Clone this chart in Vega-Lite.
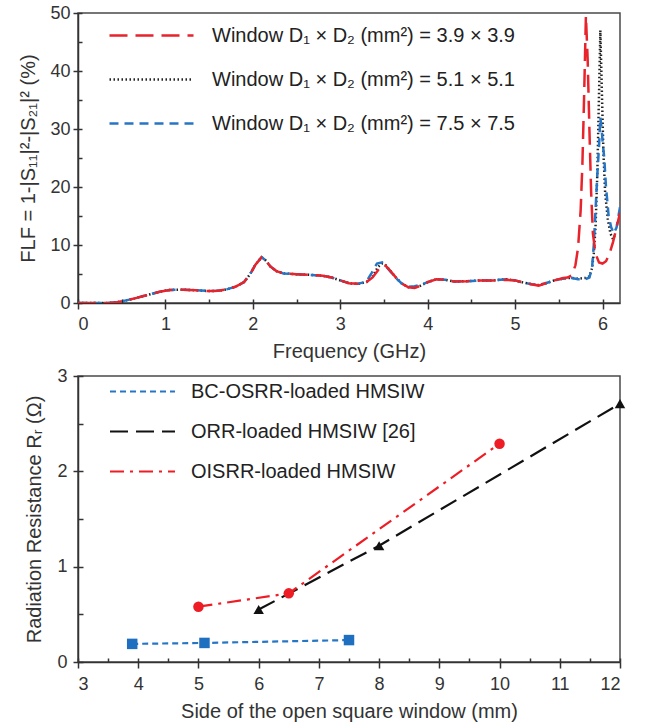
{
 "$schema": "https://vega.github.io/schema/vega-lite/v6.json",
 "config": {
  "font": "Liberation Sans",
  "view": {"stroke": "#4a4a4a", "strokeWidth": 1.5},
  "axis": {"labelFont": "Liberation Sans", "labelFontSize": 18, "labelColor": "#333333", "titleFont": "Liberation Sans", "titleFontSize": 20, "titleFontWeight": "normal", "titleColor": "#333333", "domainColor": "#333333", "tickColor": "#333333", "grid": false, "domainWidth": 1.5, "tickWidth": 1.5},
  "legend": {"labelFont": "Liberation Sans", "labelColor": "#222222", "labelFontSize": 20, "labelLimit": 600, "title": null, "padding": 0}
 },
 "datasets": {
  "top": [
   {"s":"5.1 × 5.1","f":0,"v":0},{"s":"5.1 × 5.1","f":0.2,"v":0},{"s":"5.1 × 5.1","f":0.35,"v":0.02},{"s":"5.1 × 5.1","f":0.45,"v":0.15},{"s":"5.1 × 5.1","f":0.55,"v":0.45},{"s":"5.1 × 5.1","f":0.65,"v":0.8},{"s":"5.1 × 5.1","f":0.75,"v":1.2},{"s":"5.1 × 5.1","f":0.85,"v":1.6},{"s":"5.1 × 5.1","f":0.95,"v":2.0},{"s":"5.1 × 5.1","f":1.05,"v":2.25},{"s":"5.1 × 5.1","f":1.2,"v":2.3},{"s":"5.1 × 5.1","f":1.35,"v":2.2},{"s":"5.1 × 5.1","f":1.5,"v":2.05},{"s":"5.1 × 5.1","f":1.6,"v":2.1},{"s":"5.1 × 5.1","f":1.7,"v":2.35},{"s":"5.1 × 5.1","f":1.8,"v":2.8},{"s":"5.1 × 5.1","f":1.9,"v":3.6},{"s":"5.1 × 5.1","f":1.97,"v":5.0},{"s":"5.1 × 5.1","f":2.03,"v":6.6},{"s":"5.1 × 5.1","f":2.1,"v":7.9},{"s":"5.1 × 5.1","f":2.15,"v":7.3},{"s":"5.1 × 5.1","f":2.2,"v":6.3},{"s":"5.1 × 5.1","f":2.27,"v":5.5},{"s":"5.1 × 5.1","f":2.35,"v":5.1},{"s":"5.1 × 5.1","f":2.5,"v":4.95},{"s":"5.1 × 5.1","f":2.65,"v":4.85},{"s":"5.1 × 5.1","f":2.8,"v":4.7},{"s":"5.1 × 5.1","f":2.9,"v":4.4},{"s":"5.1 × 5.1","f":3.0,"v":3.9},{"s":"5.1 × 5.1","f":3.1,"v":3.4},{"s":"5.1 × 5.1","f":3.2,"v":3.3},{"s":"5.1 × 5.1","f":3.3,"v":3.6},{"s":"5.1 × 5.1","f":3.37,"v":4.6},{"s":"5.1 × 5.1","f":3.43,"v":6.2},{"s":"5.1 × 5.1","f":3.48,"v":6.8},{"s":"5.1 × 5.1","f":3.52,"v":6.5},{"s":"5.1 × 5.1","f":3.57,"v":5.6},{"s":"5.1 × 5.1","f":3.63,"v":4.5},{"s":"5.1 × 5.1","f":3.7,"v":3.4},{"s":"5.1 × 5.1","f":3.78,"v":2.7},{"s":"5.1 × 5.1","f":3.85,"v":2.7},{"s":"5.1 × 5.1","f":3.92,"v":3.0},{"s":"5.1 × 5.1","f":4.0,"v":3.6},{"s":"5.1 × 5.1","f":4.1,"v":4.1},{"s":"5.1 × 5.1","f":4.2,"v":4.0},{"s":"5.1 × 5.1","f":4.3,"v":3.7},{"s":"5.1 × 5.1","f":4.45,"v":3.75},{"s":"5.1 × 5.1","f":4.6,"v":3.9},{"s":"5.1 × 5.1","f":4.75,"v":3.9},{"s":"5.1 × 5.1","f":4.9,"v":4.1},{"s":"5.1 × 5.1","f":5.0,"v":3.9},{"s":"5.1 × 5.1","f":5.1,"v":3.5},{"s":"5.1 × 5.1","f":5.2,"v":3.2},{"s":"5.1 × 5.1","f":5.27,"v":3.1},{"s":"5.1 × 5.1","f":5.35,"v":3.4},{"s":"5.1 × 5.1","f":5.45,"v":3.9},{"s":"5.1 × 5.1","f":5.55,"v":4.2},{"s":"5.1 × 5.1","f":5.6,"v":4.3},
   {"s":"5.1 × 5.1","f":5.65,"v":4.3},{"s":"5.1 × 5.1","f":5.72,"v":4.2},{"s":"5.1 × 5.1","f":5.8,"v":4.3},{"s":"5.1 × 5.1","f":5.85,"v":4.6},{"s":"5.1 × 5.1","f":5.88,"v":6},{"s":"5.1 × 5.1","f":5.9,"v":8.5},{"s":"5.1 × 5.1","f":5.92,"v":13},{"s":"5.1 × 5.1","f":5.94,"v":22},{"s":"5.1 × 5.1","f":5.96,"v":36},{"s":"5.1 × 5.1","f":5.975,"v":47},{"s":"5.1 × 5.1","f":5.99,"v":38},{"s":"5.1 × 5.1","f":6.01,"v":26},{"s":"5.1 × 5.1","f":6.03,"v":19},{"s":"5.1 × 5.1","f":6.06,"v":14.5},{"s":"5.1 × 5.1","f":6.09,"v":12},{"s":"5.1 × 5.1","f":6.12,"v":11},{"s":"5.1 × 5.1","f":6.15,"v":12},
   {"s":"7.5 × 7.5","f":0,"v":0},{"s":"7.5 × 7.5","f":0.2,"v":0},{"s":"7.5 × 7.5","f":0.35,"v":0.02},{"s":"7.5 × 7.5","f":0.45,"v":0.15},{"s":"7.5 × 7.5","f":0.55,"v":0.45},{"s":"7.5 × 7.5","f":0.65,"v":0.8},{"s":"7.5 × 7.5","f":0.75,"v":1.2},{"s":"7.5 × 7.5","f":0.85,"v":1.6},{"s":"7.5 × 7.5","f":0.95,"v":2.0},{"s":"7.5 × 7.5","f":1.05,"v":2.25},{"s":"7.5 × 7.5","f":1.2,"v":2.3},{"s":"7.5 × 7.5","f":1.35,"v":2.2},{"s":"7.5 × 7.5","f":1.5,"v":2.05},{"s":"7.5 × 7.5","f":1.6,"v":2.1},{"s":"7.5 × 7.5","f":1.7,"v":2.35},{"s":"7.5 × 7.5","f":1.8,"v":2.8},{"s":"7.5 × 7.5","f":1.9,"v":3.6},{"s":"7.5 × 7.5","f":1.97,"v":5.0},{"s":"7.5 × 7.5","f":2.03,"v":6.6},{"s":"7.5 × 7.5","f":2.1,"v":7.9},{"s":"7.5 × 7.5","f":2.15,"v":7.3},{"s":"7.5 × 7.5","f":2.2,"v":6.3},{"s":"7.5 × 7.5","f":2.27,"v":5.5},{"s":"7.5 × 7.5","f":2.35,"v":5.1},{"s":"7.5 × 7.5","f":2.5,"v":4.95},{"s":"7.5 × 7.5","f":2.65,"v":4.85},{"s":"7.5 × 7.5","f":2.8,"v":4.7},{"s":"7.5 × 7.5","f":2.9,"v":4.4},{"s":"7.5 × 7.5","f":3.0,"v":3.9},{"s":"7.5 × 7.5","f":3.1,"v":3.4},{"s":"7.5 × 7.5","f":3.2,"v":3.3},{"s":"7.5 × 7.5","f":3.3,"v":3.7},{"s":"7.5 × 7.5","f":3.36,"v":5.2},{"s":"7.5 × 7.5","f":3.42,"v":6.8},{"s":"7.5 × 7.5","f":3.48,"v":7.0},{"s":"7.5 × 7.5","f":3.52,"v":6.4},{"s":"7.5 × 7.5","f":3.57,"v":5.5},{"s":"7.5 × 7.5","f":3.63,"v":4.4},{"s":"7.5 × 7.5","f":3.7,"v":3.4},{"s":"7.5 × 7.5","f":3.78,"v":2.8},{"s":"7.5 × 7.5","f":3.85,"v":2.9},{"s":"7.5 × 7.5","f":3.92,"v":3.1},{"s":"7.5 × 7.5","f":4.0,"v":3.6},{"s":"7.5 × 7.5","f":4.1,"v":4.1},{"s":"7.5 × 7.5","f":4.2,"v":4.0},{"s":"7.5 × 7.5","f":4.3,"v":3.7},{"s":"7.5 × 7.5","f":4.45,"v":3.75},{"s":"7.5 × 7.5","f":4.6,"v":3.9},{"s":"7.5 × 7.5","f":4.75,"v":3.9},{"s":"7.5 × 7.5","f":4.9,"v":4.1},{"s":"7.5 × 7.5","f":5.0,"v":3.9},{"s":"7.5 × 7.5","f":5.1,"v":3.5},{"s":"7.5 × 7.5","f":5.2,"v":3.2},{"s":"7.5 × 7.5","f":5.27,"v":3.1},{"s":"7.5 × 7.5","f":5.35,"v":3.4},{"s":"7.5 × 7.5","f":5.45,"v":3.9},{"s":"7.5 × 7.5","f":5.55,"v":4.2},{"s":"7.5 × 7.5","f":5.6,"v":4.3},
   {"s":"7.5 × 7.5","f":5.65,"v":4.3},{"s":"7.5 × 7.5","f":5.72,"v":4.1},{"s":"7.5 × 7.5","f":5.8,"v":4.1},{"s":"7.5 × 7.5","f":5.85,"v":4.4},{"s":"7.5 × 7.5","f":5.88,"v":6},{"s":"7.5 × 7.5","f":5.9,"v":10},{"s":"7.5 × 7.5","f":5.92,"v":16},{"s":"7.5 × 7.5","f":5.94,"v":22},{"s":"7.5 × 7.5","f":5.96,"v":27},{"s":"7.5 × 7.5","f":5.975,"v":32},{"s":"7.5 × 7.5","f":5.99,"v":30},{"s":"7.5 × 7.5","f":6.0,"v":28},{"s":"7.5 × 7.5","f":6.02,"v":25},{"s":"7.5 × 7.5","f":6.04,"v":20},{"s":"7.5 × 7.5","f":6.07,"v":15},{"s":"7.5 × 7.5","f":6.1,"v":13},{"s":"7.5 × 7.5","f":6.13,"v":12},{"s":"7.5 × 7.5","f":6.16,"v":13},{"s":"7.5 × 7.5","f":6.2,"v":16.5},
   {"s":"3.9 × 3.9","f":0,"v":0},{"s":"3.9 × 3.9","f":0.2,"v":0},{"s":"3.9 × 3.9","f":0.35,"v":0.02},{"s":"3.9 × 3.9","f":0.45,"v":0.15},{"s":"3.9 × 3.9","f":0.55,"v":0.45},{"s":"3.9 × 3.9","f":0.65,"v":0.8},{"s":"3.9 × 3.9","f":0.75,"v":1.2},{"s":"3.9 × 3.9","f":0.85,"v":1.6},{"s":"3.9 × 3.9","f":0.95,"v":2.0},{"s":"3.9 × 3.9","f":1.05,"v":2.25},{"s":"3.9 × 3.9","f":1.2,"v":2.3},{"s":"3.9 × 3.9","f":1.35,"v":2.2},{"s":"3.9 × 3.9","f":1.5,"v":2.05},{"s":"3.9 × 3.9","f":1.6,"v":2.1},{"s":"3.9 × 3.9","f":1.7,"v":2.35},{"s":"3.9 × 3.9","f":1.8,"v":2.8},{"s":"3.9 × 3.9","f":1.9,"v":3.6},{"s":"3.9 × 3.9","f":1.97,"v":5.0},{"s":"3.9 × 3.9","f":2.03,"v":6.6},{"s":"3.9 × 3.9","f":2.1,"v":7.9},{"s":"3.9 × 3.9","f":2.15,"v":7.3},{"s":"3.9 × 3.9","f":2.2,"v":6.3},{"s":"3.9 × 3.9","f":2.27,"v":5.5},{"s":"3.9 × 3.9","f":2.35,"v":5.1},{"s":"3.9 × 3.9","f":2.5,"v":4.95},{"s":"3.9 × 3.9","f":2.65,"v":4.85},{"s":"3.9 × 3.9","f":2.8,"v":4.7},{"s":"3.9 × 3.9","f":2.9,"v":4.4},{"s":"3.9 × 3.9","f":3.0,"v":3.9},{"s":"3.9 × 3.9","f":3.1,"v":3.4},{"s":"3.9 × 3.9","f":3.2,"v":3.3},{"s":"3.9 × 3.9","f":3.3,"v":3.6},{"s":"3.9 × 3.9","f":3.37,"v":4.4},{"s":"3.9 × 3.9","f":3.43,"v":5.6},{"s":"3.9 × 3.9","f":3.48,"v":6.6},{"s":"3.9 × 3.9","f":3.52,"v":6.4},{"s":"3.9 × 3.9","f":3.57,"v":5.6},{"s":"3.9 × 3.9","f":3.63,"v":4.5},{"s":"3.9 × 3.9","f":3.7,"v":3.4},{"s":"3.9 × 3.9","f":3.78,"v":2.7},{"s":"3.9 × 3.9","f":3.85,"v":2.6},{"s":"3.9 × 3.9","f":3.92,"v":3.0},{"s":"3.9 × 3.9","f":4.0,"v":3.6},{"s":"3.9 × 3.9","f":4.1,"v":4.1},{"s":"3.9 × 3.9","f":4.2,"v":4.0},{"s":"3.9 × 3.9","f":4.3,"v":3.7},{"s":"3.9 × 3.9","f":4.45,"v":3.75},{"s":"3.9 × 3.9","f":4.6,"v":3.9},{"s":"3.9 × 3.9","f":4.75,"v":3.9},{"s":"3.9 × 3.9","f":4.9,"v":4.0},{"s":"3.9 × 3.9","f":5.0,"v":3.9},{"s":"3.9 × 3.9","f":5.1,"v":3.5},{"s":"3.9 × 3.9","f":5.2,"v":3.2},{"s":"3.9 × 3.9","f":5.27,"v":3.0},{"s":"3.9 × 3.9","f":5.35,"v":3.4},{"s":"3.9 × 3.9","f":5.45,"v":3.9},{"s":"3.9 × 3.9","f":5.55,"v":4.3},{"s":"3.9 × 3.9","f":5.6,"v":4.4},
   {"s":"3.9 × 3.9","f":5.65,"v":4.8},{"s":"3.9 × 3.9","f":5.69,"v":6.5},{"s":"3.9 × 3.9","f":5.72,"v":9.5},{"s":"3.9 × 3.9","f":5.75,"v":16},{"s":"3.9 × 3.9","f":5.77,"v":24},{"s":"3.9 × 3.9","f":5.79,"v":36},{"s":"3.9 × 3.9","f":5.81,"v":49.5},{"s":"3.9 × 3.9","f":5.83,"v":42},{"s":"3.9 × 3.9","f":5.85,"v":30},{"s":"3.9 × 3.9","f":5.87,"v":19},{"s":"3.9 × 3.9","f":5.89,"v":12},{"s":"3.9 × 3.9","f":5.92,"v":8.5},{"s":"3.9 × 3.9","f":5.96,"v":7},{"s":"3.9 × 3.9","f":6.0,"v":6.8},{"s":"3.9 × 3.9","f":6.04,"v":7.2},{"s":"3.9 × 3.9","f":6.08,"v":8.5},{"s":"3.9 × 3.9","f":6.12,"v":10.5},{"s":"3.9 × 3.9","f":6.16,"v":13},{"s":"3.9 × 3.9","f":6.2,"v":15.5}
  ],
  "bottom": [
   {"s":"BC-OSRR-loaded HMSIW","w":3.9,"r":0.19},{"s":"BC-OSRR-loaded HMSIW","w":5.1,"r":0.2},{"s":"BC-OSRR-loaded HMSIW","w":7.5,"r":0.23},
   {"s":"ORR-loaded HMSIW [26]","w":6,"r":0.55},{"s":"ORR-loaded HMSIW [26]","w":8,"r":1.22},{"s":"ORR-loaded HMSIW [26]","w":12,"r":2.71},
   {"s":"OISRR-loaded HMSIW","w":5,"r":0.58},{"s":"OISRR-loaded HMSIW","w":6.5,"r":0.72},{"s":"OISRR-loaded HMSIW","w":10,"r":2.29}
  ]
 },
 "padding": {"left": 18, "top": 3, "right": 5, "bottom": 5},
 "columns": 1,
 "align": "none",
 "spacing": 4,
 "resolve": {"scale": {"x": "independent", "y": "independent", "stroke": "independent", "strokeDash": "independent"}},
 "concat": [
  {
   "width": 542, "height": 290,
   "data": {"name": "top"},
   "resolve": {"axis": {"x": "independent", "y": "independent"}},
   "layer": [
    {
     "mark": {"type": "point", "opacity": 0},
     "encoding": {
      "x": {"field": "f", "type": "quantitative", "scale": {"domain": [0, 6.2], "nice": false, "zero": false}, "axis": {"orient": "bottom", "values": [0,0.5,1,1.5,2,2.5,3,3.5,4,4.5,5,5.5,6], "labels": false, "domain": false, "tickSize": -4, "title": null}},
      "y": {"field": "v", "type": "quantitative", "scale": {"domain": [0, 50], "nice": false}, "axis": {"orient": "left", "values": [0,5,10,15,20,25,30,35,40,45,50], "labels": false, "domain": false, "tickSize": -4, "title": null}}
     }
    },
    {
     "mark": {"type": "line", "strokeWidth": 2.5, "clip": true},
     "encoding": {
      "x": {"field": "f", "type": "quantitative", "axis": {"orient": "bottom", "values": [0,1,2,3,4,5,6], "title": "Frequency (GHz)", "tickSize": 6, "labelPadding": 6, "titlePadding": 8}},
      "y": {"field": "v", "type": "quantitative", "axis": {"orient": "left", "values": [0,10,20,30,40,50], "title": "FLF = 1-|S₁₁|²-|S₂₁|²  (%)", "tickSize": 5, "labelPadding": 3, "titlePadding": 11}},
      "stroke": {"field": "s", "type": "nominal", "scale": {"domain": ["3.9 × 3.9", "5.1 × 5.1", "7.5 × 7.5"], "range": ["#e8232b", "#222222", "#2776c5"]},
       "legend": {"orient": "none", "legendX": 30, "legendY": 4, "symbolType": "M-2.5,0H2.5", "symbolSize": 1129, "symbolOffset": 25, "symbolStrokeWidth": 2.5, "labelOffset": 42, "rowPadding": 15, "labelExpr": "'Window D₁ × D₂ (mm²) = ' + datum.label"}},
      "strokeDash": {"field": "s", "type": "nominal", "scale": {"domain": ["3.9 × 3.9", "5.1 × 5.1", "7.5 × 7.5"], "range": [[18, 8], [1.5, 2.5], [9, 6]]}}
     }
    }
   ]
  },
  {
   "width": 542, "height": 286,
   "data": {"name": "bottom"},
   "resolve": {"axis": {"x": "independent", "y": "independent"}},
   "layer": [
    {
     "mark": {"type": "point", "opacity": 0},
     "encoding": {
      "x": {"field": "w", "type": "quantitative", "scale": {"domain": [3, 12], "nice": false, "zero": false}, "axis": {"orient": "bottom", "values": [3,3.5,4,4.5,5,5.5,6,6.5,7,7.5,8,8.5,9,9.5,10,10.5,11,11.5,12], "labels": false, "domain": false, "tickSize": -4, "title": null}},
      "y": {"field": "r", "type": "quantitative", "scale": {"domain": [0, 3], "nice": false}, "axis": {"orient": "left", "values": [0,0.5,1,1.5,2,2.5,3], "labels": false, "domain": false, "tickSize": -5, "title": null}}
     }
    },
    {
     "mark": {"type": "line", "strokeWidth": 2.2},
     "encoding": {
      "x": {"field": "w", "type": "quantitative", "axis": {"orient": "bottom", "values": [3,4,5,6,7,8,9,10,11,12], "title": "Side of the open square window (mm)", "tickSize": 6, "labelPadding": 7, "titlePadding": 8}},
      "y": {"field": "r", "type": "quantitative", "axis": {"orient": "left", "values": [0,1,2,3], "title": "Radiation Resistance Rᵣ (Ω)", "tickSize": 5, "labelPadding": 6, "titlePadding": 12}},
      "stroke": {"field": "s", "type": "nominal", "scale": {"domain": ["BC-OSRR-loaded HMSIW", "ORR-loaded HMSIW [26]", "OISRR-loaded HMSIW"], "range": ["#2776c5", "#111111", "#ee1c24"]},
       "legend": {"orient": "none", "legendX": 30, "legendY": 1, "symbolType": "M-2.5,0H2.5", "symbolSize": 676, "symbolOffset": 20, "symbolStrokeWidth": 2.2, "labelOffset": 34, "rowPadding": 15}},
      "strokeDash": {"field": "s", "type": "nominal", "scale": {"domain": ["BC-OSRR-loaded HMSIW", "ORR-loaded HMSIW [26]", "OISRR-loaded HMSIW"], "range": [[6, 4], [18, 8], [14, 6, 3, 6]]}}
     }
    },
    {
     "transform": [{"filter": "datum.s == 'BC-OSRR-loaded HMSIW'"}],
     "mark": {"type": "point", "shape": "square", "filled": true, "opacity": 1, "size": 110, "color": "#1f6fc0"},
     "encoding": {"x": {"field": "w", "type": "quantitative", "axis": null}, "y": {"field": "r", "type": "quantitative", "axis": null}}
    },
    {
     "transform": [{"filter": "datum.s == 'ORR-loaded HMSIW [26]'"}],
     "mark": {"type": "point", "shape": "triangle-up", "filled": true, "opacity": 1, "size": 110, "color": "#111111"},
     "encoding": {"x": {"field": "w", "type": "quantitative", "axis": null}, "y": {"field": "r", "type": "quantitative", "axis": null}}
    },
    {
     "transform": [{"filter": "datum.s == 'OISRR-loaded HMSIW'"}],
     "mark": {"type": "point", "shape": "circle", "filled": true, "opacity": 1, "size": 110, "color": "#ee1c24"},
     "encoding": {"x": {"field": "w", "type": "quantitative", "axis": null}, "y": {"field": "r", "type": "quantitative", "axis": null}}
    }
   ]
  }
 ]
}
